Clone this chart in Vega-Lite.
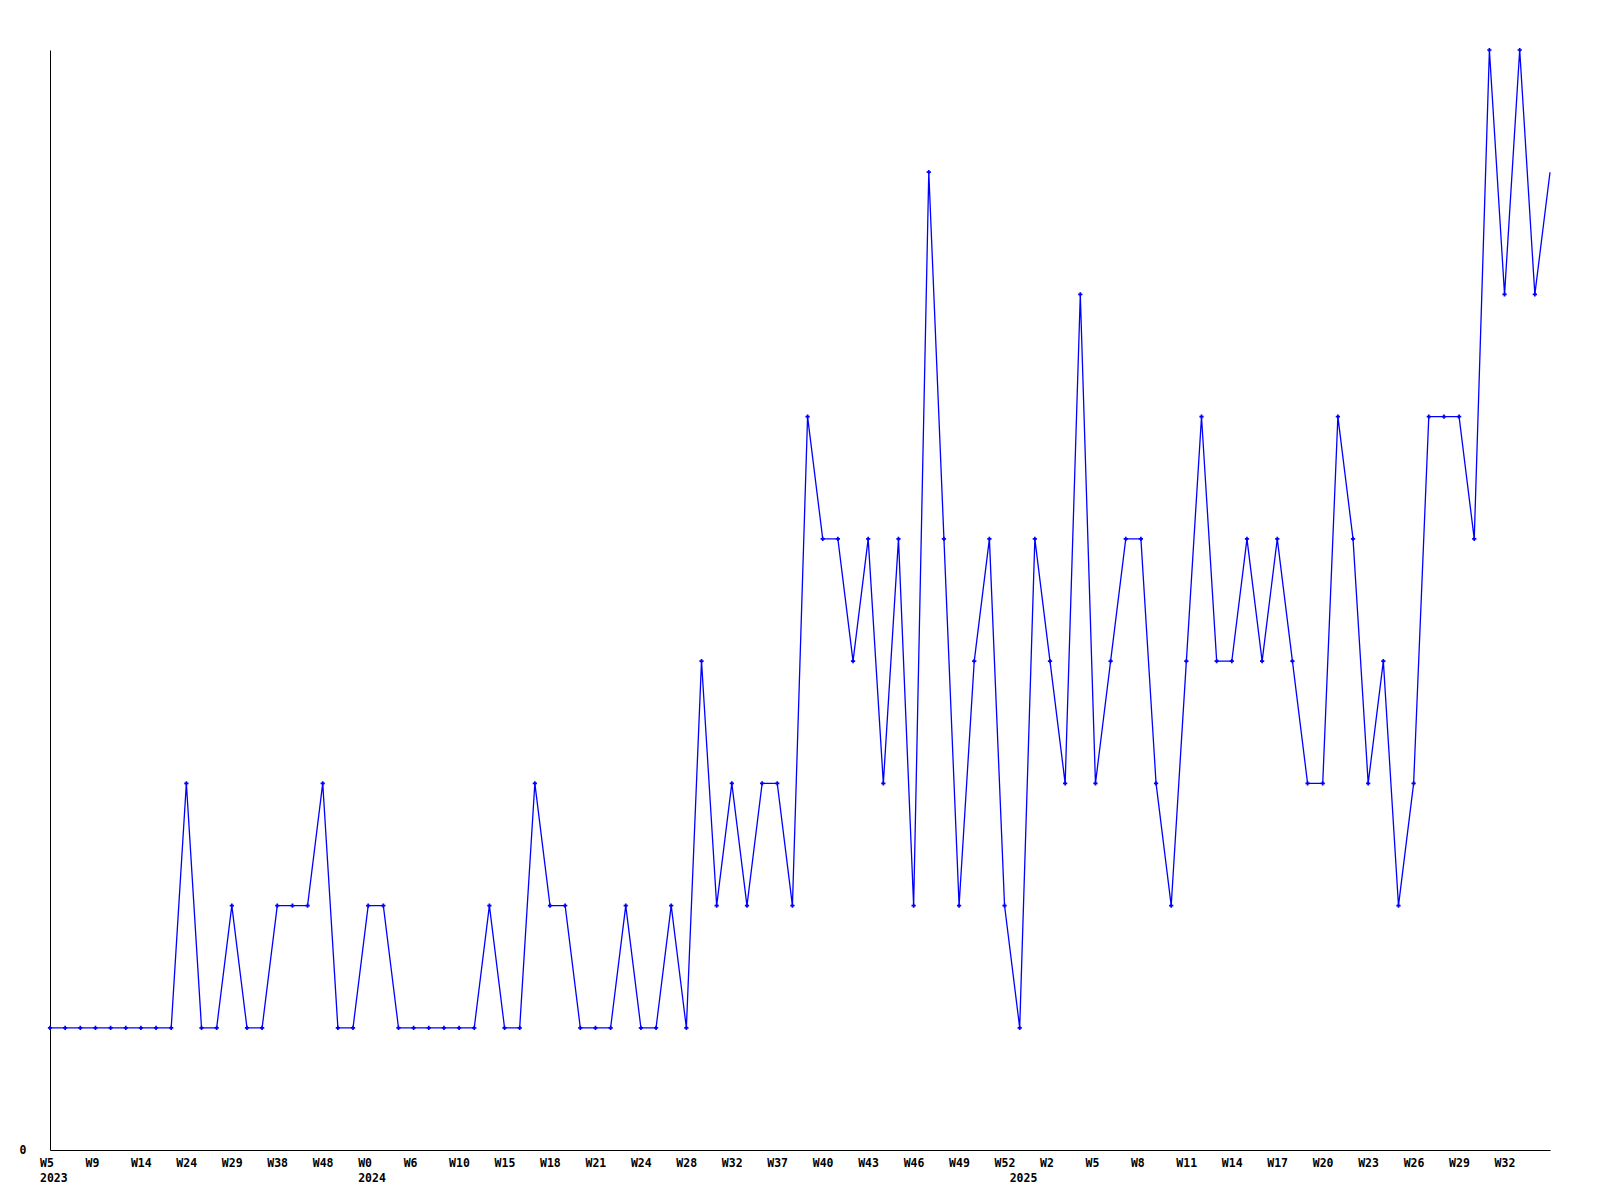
{
  "$schema": "https://vega.github.io/schema/vega-lite/v6.json",
  "autosize": {"type": "none"},
  "padding": {"left": 50, "top": 50, "right": 50, "bottom": 50},
  "width": 1500,
  "height": 1100,
  "background": "white",
  "config": {"view": {"stroke": null}},
  "data": {"values": [
    {"wk": "2023 W5", "v": 1}, {"wk": "2023 W6", "v": 1}, {"wk": "2023 W7", "v": 1}, {"wk": "2023 W9", "v": 1},
    {"wk": "2023 W10", "v": 1}, {"wk": "2023 W12", "v": 1}, {"wk": "2023 W14", "v": 1}, {"wk": "2023 W17", "v": 1},
    {"wk": "2023 W20", "v": 1}, {"wk": "2023 W24", "v": 3}, {"wk": "2023 W25", "v": 1}, {"wk": "2023 W27", "v": 1},
    {"wk": "2023 W29", "v": 2}, {"wk": "2023 W32", "v": 1}, {"wk": "2023 W35", "v": 1}, {"wk": "2023 W38", "v": 2},
    {"wk": "2023 W41", "v": 2}, {"wk": "2023 W44", "v": 2}, {"wk": "2023 W48", "v": 3}, {"wk": "2023 W50", "v": 1},
    {"wk": "2023 W51", "v": 1},
    {"wk": "2024 W0", "v": 2}, {"wk": "2024 W2", "v": 2}, {"wk": "2024 W4", "v": 1}, {"wk": "2024 W6", "v": 1},
    {"wk": "2024 W7", "v": 1}, {"wk": "2024 W8", "v": 1}, {"wk": "2024 W10", "v": 1}, {"wk": "2024 W12", "v": 1},
    {"wk": "2024 W13", "v": 2}, {"wk": "2024 W15", "v": 1}, {"wk": "2024 W16", "v": 1}, {"wk": "2024 W17", "v": 3},
    {"wk": "2024 W18", "v": 2}, {"wk": "2024 W19", "v": 2}, {"wk": "2024 W20", "v": 1}, {"wk": "2024 W21", "v": 1},
    {"wk": "2024 W22", "v": 1}, {"wk": "2024 W23", "v": 2}, {"wk": "2024 W24", "v": 1}, {"wk": "2024 W26", "v": 1},
    {"wk": "2024 W27", "v": 2}, {"wk": "2024 W28", "v": 1}, {"wk": "2024 W29", "v": 4}, {"wk": "2024 W31", "v": 2},
    {"wk": "2024 W32", "v": 3}, {"wk": "2024 W34", "v": 2}, {"wk": "2024 W35", "v": 3}, {"wk": "2024 W37", "v": 3},
    {"wk": "2024 W38", "v": 2}, {"wk": "2024 W39", "v": 6}, {"wk": "2024 W40", "v": 5}, {"wk": "2024 W41", "v": 5},
    {"wk": "2024 W42", "v": 4}, {"wk": "2024 W43", "v": 5}, {"wk": "2024 W44", "v": 3}, {"wk": "2024 W45", "v": 5},
    {"wk": "2024 W46", "v": 2}, {"wk": "2024 W47", "v": 8}, {"wk": "2024 W48", "v": 5}, {"wk": "2024 W49", "v": 2},
    {"wk": "2024 W50", "v": 4}, {"wk": "2024 W51", "v": 5}, {"wk": "2024 W52", "v": 2},
    {"wk": "2025 W0", "v": 1}, {"wk": "2025 W1", "v": 5}, {"wk": "2025 W2", "v": 4}, {"wk": "2025 W3", "v": 3},
    {"wk": "2025 W4", "v": 7}, {"wk": "2025 W5", "v": 3}, {"wk": "2025 W6", "v": 4}, {"wk": "2025 W7", "v": 5},
    {"wk": "2025 W8", "v": 5}, {"wk": "2025 W9", "v": 3}, {"wk": "2025 W10", "v": 2}, {"wk": "2025 W11", "v": 4},
    {"wk": "2025 W12", "v": 6}, {"wk": "2025 W13", "v": 4}, {"wk": "2025 W14", "v": 4}, {"wk": "2025 W15", "v": 5},
    {"wk": "2025 W16", "v": 4}, {"wk": "2025 W17", "v": 5}, {"wk": "2025 W18", "v": 4}, {"wk": "2025 W19", "v": 3},
    {"wk": "2025 W20", "v": 3}, {"wk": "2025 W21", "v": 6}, {"wk": "2025 W22", "v": 5}, {"wk": "2025 W23", "v": 3},
    {"wk": "2025 W24", "v": 4}, {"wk": "2025 W25", "v": 2}, {"wk": "2025 W26", "v": 3}, {"wk": "2025 W27", "v": 6},
    {"wk": "2025 W28", "v": 6}, {"wk": "2025 W29", "v": 6}, {"wk": "2025 W30", "v": 5}, {"wk": "2025 W31", "v": 9},
    {"wk": "2025 W32", "v": 7}, {"wk": "2025 W33", "v": 9}, {"wk": "2025 W34", "v": 7}, {"wk": "2025 W35", "v": 8}
  ]},
  "encoding": {
    "x": {
      "field": "wk", "type": "ordinal", "sort": null,
      "scale": {"type": "point", "padding": 0},
      "axis": {
        "title": null,
        "values": ["2023 W5", "2023 W9", "2023 W14", "2023 W24", "2023 W29", "2023 W38", "2023 W48",
                   "2024 W0", "2024 W6", "2024 W10", "2024 W15", "2024 W18", "2024 W21", "2024 W24", "2024 W28",
                   "2024 W32", "2024 W37", "2024 W40", "2024 W43", "2024 W46", "2024 W49", "2024 W52",
                   "2025 W0", "2025 W2", "2025 W5", "2025 W8", "2025 W11", "2025 W14", "2025 W17", "2025 W20",
                   "2025 W23", "2025 W26", "2025 W29", "2025 W32"],
        "labelExpr": "datum.value == '2025 W0' ? ['', '2025'] : ((datum.value == '2023 W5' || datum.value == '2024 W0') ? [split(datum.value, ' ')[1], split(datum.value, ' ')[0]] : split(datum.value, ' ')[1])",
        "labelAngle": 0,
        "labelAlign": "left",
        "labelBaseline": "top",
        "labelOffset": -10.5,
        "labelPadding": 7,
        "labelLineHeight": 15,
        "labelOverlap": false,
        "labelBound": false,
        "labelFlush": false,
        "labelFont": "DejaVu Sans Mono",
        "labelFontWeight": "bold",
        "labelFontSize": 11.5,
        "labelColor": "black",
        "ticks": false,
        "grid": false,
        "domainColor": "black",
        "domainWidth": 1
      }
    },
    "y": {
      "field": "v", "type": "quantitative",
      "scale": {"domain": [0, 9], "nice": false, "zero": true},
      "axis": {
        "title": null,
        "values": [0],
        "labelFont": "DejaVu Sans Mono",
        "labelFontWeight": "bold",
        "labelFontSize": 11.5,
        "labelColor": "black",
        "labelPadding": 24,
        "ticks": false,
        "grid": false,
        "domainColor": "black",
        "domainWidth": 1
      }
    }
  },
  "layer": [
    {"mark": {"type": "line", "color": "#0000ff", "strokeWidth": 1.3}},
    {
      "transform": [{"filter": "datum.wk != '2025 W35'"}],
      "mark": {"type": "point", "shape": "cross", "filled": true, "color": "#0000ff", "size": 18, "opacity": 1}
    }
  ]
}
